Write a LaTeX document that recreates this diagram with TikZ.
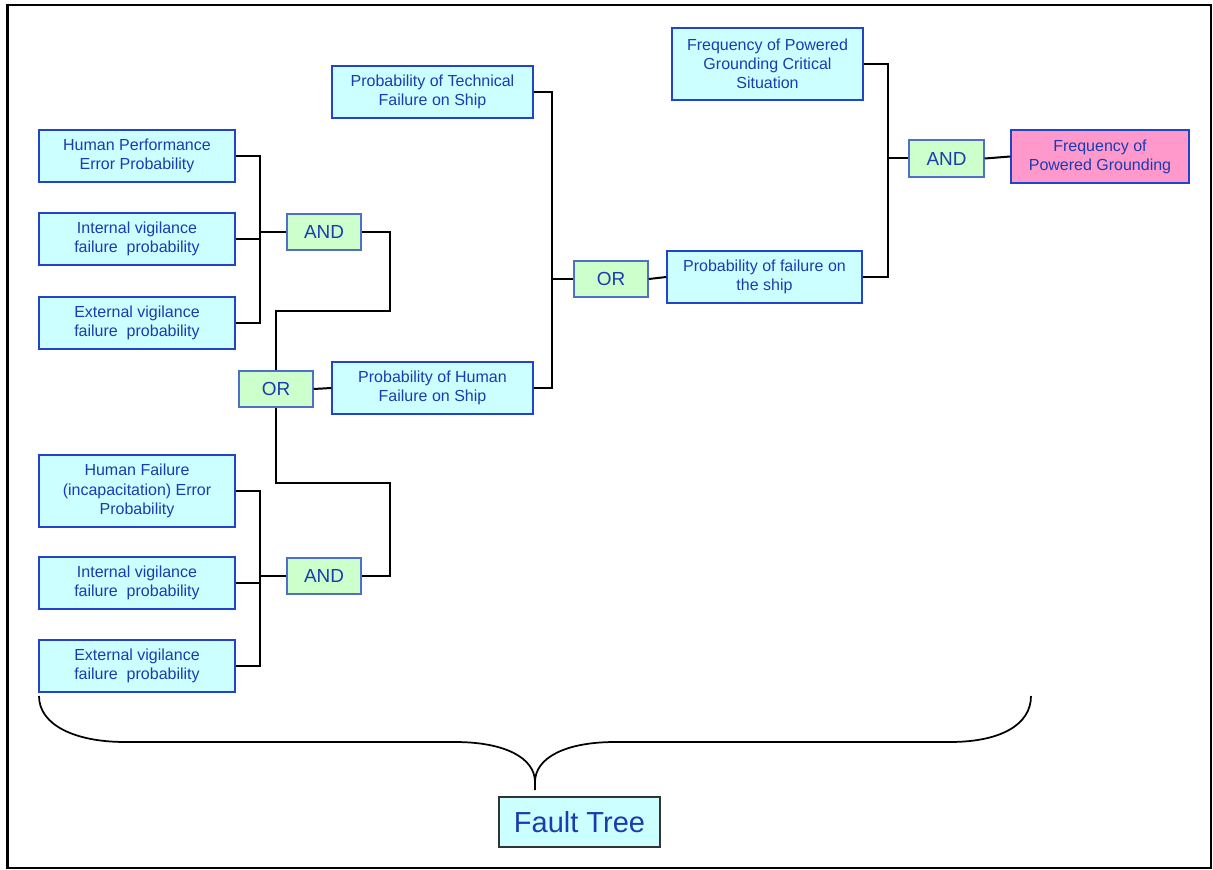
\documentclass[tikz,border=0pt]{standalone}
\usepackage{fontspec}
\setmainfont{Liberation Sans}
\definecolor{txtblue}{HTML}{1A3CB0}
\definecolor{boxedge}{HTML}{2244CC}
\definecolor{gateedge}{HTML}{5070C8}
\definecolor{cyanfill}{HTML}{CCFFFF}
\definecolor{greenfill}{HTML}{CCFFCC}
\definecolor{pinkfill}{HTML}{FF99CC}
\begin{document}
\begin{tikzpicture}[x=0.75pt,y=-0.75pt,
  evbox/.style={draw=boxedge,line width=1.1pt,fill=cyanfill,text=txtblue,inner sep=0pt,align=center,
     font=\fontsize{12pt}{14.4pt}\selectfont,minimum height=39pt},
  gatebox/.style={draw=gateedge,line width=1.1pt,fill=greenfill,text=txtblue,inner sep=0pt,
     font=\fontsize{14.2pt}{16pt}\selectfont,minimum width=55.5pt,minimum height=27pt},
  conn/.style={line width=1.5pt,black}]
\useasboundingbox (0,0) rectangle (1213,870);
\draw[line width=2pt] (7.5,5) rectangle (1211,868);

% left upper group
\node[evbox,minimum width=147pt] (HPE) at (137,156) {Human Performance\\Error Probability};
\node[evbox,minimum width=147pt] (IVF1) at (137,239) {Internal vigilance\\failure\ \ probability};
\node[evbox,minimum width=147pt] (EVF1) at (137,323) {External vigilance\\failure\ \ probability};
% left lower group
\node[evbox,minimum width=147pt,minimum height=54pt] (HFI) at (137,491) {Human Failure\\(incapacitation) Error\\Probability};
\node[evbox,minimum width=147pt] (IVF2) at (137,583) {Internal vigilance\\failure\ \ probability};
\node[evbox,minimum width=147pt] (EVF2) at (137,666) {External vigilance\\failure\ \ probability};
% gates
\node[gatebox] (AND1) at (324,232) {AND};
\node[gatebox] (AND2) at (324,576) {AND};
\node[gatebox] (OR1) at (276,389) {OR};
\node[gatebox] (OR2) at (611,279) {OR};
\node[gatebox,minimum width=56.25pt,minimum height=27.75pt] (AND3) at (946.5,158.5) {AND};
% middle
\node[evbox,minimum width=150.75pt] (PHF) at (432.5,388) {Probability of Human\\Failure on Ship};
\node[evbox,minimum width=150.75pt] (PTF) at (432.5,92) {Probability of Technical\\Failure on Ship};
% right
\node[evbox,minimum width=146.25pt] (PFS) at (764.5,277) {Probability of failure on\\the ship};
\node[evbox,minimum width=143.25pt,minimum height=54pt] (FPGC) at (767.5,64) {Frequency of Powered\\Grounding Critical\\Situation};
\node[evbox,fill=pinkfill,minimum width=133.5pt,minimum height=39.75pt] (FPG) at (1100,156.5) {Frequency of\\Powered Grounding};
% fault tree label
\node[draw=black!80,line width=1.1pt,fill=cyanfill,text=txtblue,inner sep=0pt,
  font=\fontsize{21.75pt}{24pt}\selectfont,minimum width=120.75pt,minimum height=37.5pt] (FT) at (579.5,822) {Fault Tree};

% bus coordinates
\coordinate (bA) at (260,0);
\coordinate (bB) at (552,0);
\coordinate (bC) at (888,0);
\coordinate (c1) at (390,311);
\coordinate (c2) at (390,483);

% upper left
\draw[conn] (HPE.east) -| (bA |- EVF1.east) -- (EVF1.east);
\draw[conn] (IVF1.east) -- (bA |- IVF1.east);
\draw[conn] (AND1.west) -- (bA |- AND1.west);
% lower left
\draw[conn] (HFI.east) -| (bA |- EVF2.east) -- (EVF2.east);
\draw[conn] (IVF2.east) -- (bA |- IVF2.east);
\draw[conn] (AND2.west) -- (bA |- AND2.west);
% to OR1
\draw[conn] (AND1.east) -| (c1) -| (OR1.north);
\draw[conn] (OR1.south) |- (c2) |- (AND2.east);
\draw[conn] (OR1.east) -- (PHF.west);
% middle
\draw[conn] (PTF.east) -| (bB |- PHF.east) -- (PHF.east);
\draw[conn] (OR2.west) -- (bB |- OR2.west);
\draw[conn] (OR2.east) -- (PFS.west);
% right
\draw[conn] (FPGC.east) -| (bC |- PFS.east) -- (PFS.east);
\draw[conn] (AND3.west) -- (bC |- AND3.west);
\draw[conn] (AND3.east) -- (FPG.west);

% brace
\draw[line width=1.3pt] (39,696) .. controls (39,725) and (75,742) .. (125,742) -- (455,742)
  .. controls (505,742) and (535,758) .. (535,782) -- (535,790);
\draw[line width=1.3pt] (535,782) .. controls (535,758) and (565,742) .. (615,742) -- (950,742)
  .. controls (1000,742) and (1031,725) .. (1031,696);
\end{tikzpicture}
\end{document}
